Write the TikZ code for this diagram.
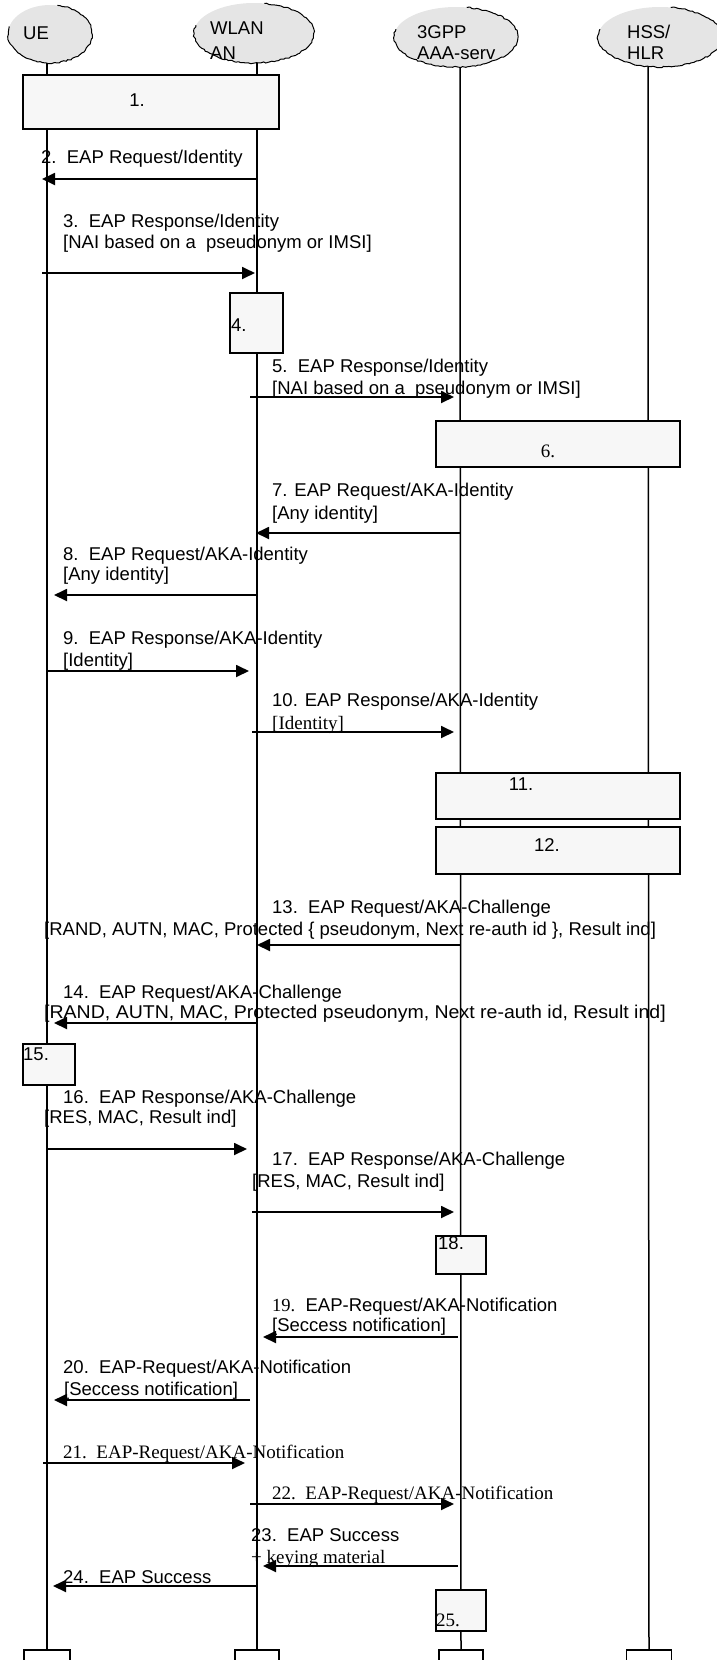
\documentclass[tikz,border=0pt]{standalone}
\usepackage{fontspec}
\setmainfont{Liberation Sans}
\newfontfamily\tms{Liberation Serif}
\usetikzlibrary{arrows.meta,decorations.pathmorphing,shapes.geometric}
\begin{document}
\begin{tikzpicture}[x=1pt,y=1pt,
  life/.style={line width=1.5pt},
  msg/.style={line width=1.8pt,-{Triangle[length=13pt,width=12pt]}},
  procbox/.style={draw,line width=1.6pt,fill=black!3,inner sep=0pt},
  endbox/.style={draw,line width=1.6pt,fill=white,inner sep=0pt},
  lbl/.style={anchor=base west,inner sep=0pt,font=\fontsize{18.5}{22}\selectfont},
  slbl/.style={anchor=base west,inner sep=0pt,font=\tms\fontsize{19}{22}\selectfont},
  clbl/.style={anchor=base,inner sep=0pt,font=\fontsize{18.5}{22}\selectfont},
  sclbl/.style={anchor=base,inner sep=0pt,font=\tms\fontsize{19}{22}\selectfont},
  cloudnode/.style={ellipse,fill=black!10,inner sep=0pt},
  cloudedge/.style={line width=1pt,decorate,decoration={random steps,segment length=2.5pt,amplitude=0.7pt}}
]
\pgfmathsetseed{7}
\useasboundingbox (0,0) rectangle (716,-1660);

% bottom boxes
\node[endbox,minimum width=46pt,minimum height=40pt] (uebot) at (47,-1670) {};
\node[endbox,minimum width=44pt,minimum height=40pt] (wlbot) at (257,-1670) {};
\node[endbox,minimum width=44pt,minimum height=40pt] (aabot) at (461,-1670) {};
\node[endbox,minimum width=45pt,minimum height=40pt] (hsbot) at (649,-1670) {};

% lifelines
\coordinate (uetop) at (47,-58);
\coordinate (wltop) at (257,-58);
\coordinate (aatop) at (460,-62);
\coordinate (hstop) at (648,-62);
\draw[life] (uetop) -- (uebot.north);
\draw[life] (wltop) -- (wlbot.north);
\draw[life] (aatop) -- (aabot.north);
\draw[life] (hstop) -- (hsbot.north);

% clouds
\node[cloudnode,minimum width=84pt,minimum height=58pt] (uecl) at (50,-34) {};
\draw[cloudedge] (uecl.center) ++(80:42 and 29) arc[start angle=80,end angle=-195,x radius=42,y radius=29];
\node[cloudnode,minimum width=120pt,minimum height=60pt] (wlcl) at (254,-33) {};
\draw[cloudedge] (wlcl.center) ++(80:60 and 30) arc[start angle=80,end angle=-195,x radius=60,y radius=30];
\node[cloudnode,minimum width=124pt,minimum height=60pt] (aacl) at (456,-37) {};
\draw[cloudedge] (aacl.center) ++(80:62 and 30) arc[start angle=80,end angle=-195,x radius=62,y radius=30];
\node[cloudnode,minimum width=124pt,minimum height=60pt] (hscl) at (660,-37) {};
\draw[cloudedge] (hscl.center) ++(80:62 and 30) arc[start angle=80,end angle=-195,x radius=62,y radius=30];
\node[lbl] (t-ue) at (23,-39) {UE};
\node[lbl] (t-wl1) at (210,-34) {WLAN};
\node[lbl] (t-wl2) at (210,-59) {AN};
\node[lbl] (t-aa1) at (417,-38) {3GPP};
\node[lbl] (t-aa2) at (417,-59) {AAA-serv};
\node[lbl] (t-hs1) at (627,-38) {HSS/};
\node[lbl] (t-hs2) at (627,-59) {HLR};

% process boxes
\node[procbox,minimum width=256pt,minimum height=54pt] (b1) at (151,-102) {};
\node[clbl] (b1t) at (137,-106) {1.};
\node[procbox,minimum width=53pt,minimum height=60pt] (b4) at (256.5,-323) {};
\node[lbl] (b4t) at (231,-331) {4.};
\node[procbox,minimum width=244pt,minimum height=46pt] (b6) at (558,-444) {};
\node[sclbl] (b6t) at (548,-457) {6.};
\node[procbox,minimum width=244pt,minimum height=46pt] (b11) at (558,-796) {};
\node[clbl] (b11t) at (521,-790) {11.};
\node[procbox,minimum width=244pt,minimum height=47pt] (b12) at (558,-850.5) {};
\node[clbl] (b12t) at (547,-851) {12.};
\node[procbox,minimum width=52pt,minimum height=41pt] (b15) at (49,-1064.5) {};
\node[lbl] (b15t) at (23,-1060) {15.};
\node[procbox,minimum width=50pt,minimum height=38pt] (b18) at (461,-1255) {};
\node[lbl] (b18t) at (438,-1249) {18.};
\node[procbox,minimum width=50pt,minimum height=41pt] (b25) at (461,-1610.5) {};
\node[slbl] (b25t) at (436,-1626) {25.};

% message 2
\node[lbl] (m2a) at (41,-163) {2.\ \ EAP Request/Identity};
\coordinate (m2s) at (257,-179); \coordinate (m2e) at (42,-179);
\draw[msg] (m2s) -- (m2e);
% message 3
\node[lbl] (m3a) at (63,-227) {3.\ \ EAP Response/Identity};
\node[lbl] (m3b) at (63,-248) {[NAI based on a\ \ pseudonym or IMSI]};
\coordinate (m3s) at (42,-273); \coordinate (m3e) at (255,-273);
\draw[msg] (m3s) -- (m3e);
% message 5
\node[lbl] (m5a) at (272,-372) {5.\ \ EAP Response/Identity};
\node[lbl] (m5b) at (272,-394) {[NAI based on a\ \ pseudonym or IMSI]};
\coordinate (m5s) at (250,-397); \coordinate (m5e) at (454,-397);
\draw[msg] (m5s) -- (m5e);
% message 7
\node[lbl] (m7a) at (272,-496) {7. EAP Request/AKA-Identity};
\node[lbl] (m7b) at (272,-519) {[Any identity]};
\coordinate (m7s) at (460,-533); \coordinate (m7e) at (256,-533);
\draw[msg] (m7s) -- (m7e);
% message 8
\node[lbl] (m8a) at (63,-560) {8.\ \ EAP Request/AKA-Identity};
\node[lbl] (m8b) at (63,-580) {[Any identity]};
\coordinate (m8s) at (257,-595); \coordinate (m8e) at (54,-595);
\draw[msg] (m8s) -- (m8e);
% message 9
\node[lbl] (m9a) at (63,-644) {9.\ \ EAP Response/AKA-Identity};
\node[lbl] (m9b) at (63,-666) {[Identity]};
\coordinate (m9s) at (47,-671); \coordinate (m9e) at (249,-671);
\draw[msg] (m9s) -- (m9e);
% message 10
\node[lbl] (m10a) at (272,-706) {10. EAP Response/AKA-Identity};
\node[slbl] (m10b) at (272,-729) {[Identity]};
\coordinate (m10s) at (252,-732); \coordinate (m10e) at (454,-732);
\draw[msg] (m10s) -- (m10e);
% message 13
\node[lbl] (m13a) at (272,-913) {13.\ \ EAP Request/AKA-Challenge};
\node[lbl] (m13b) at (44,-935) {[RAND, AUTN, MAC, Protected \{ pseudonym, Next re-auth id \}, Result ind]};
\coordinate (m13s) at (460,-945); \coordinate (m13e) at (257,-945);
\draw[msg] (m13s) -- (m13e);
% message 14
\node[lbl] (m14a) at (63,-998) {14.\ \ EAP Request/AKA-Challenge};
\node[lbl] (m14b) at (44,-1018) {\scalebox{1.055}[1]{[RAND, AUTN, MAC, Protected pseudonym, Next re-auth id, Result ind]}};
\coordinate (m14s) at (257,-1023); \coordinate (m14e) at (54,-1023);
\draw[msg] (m14s) -- (m14e);
% message 16
\node[lbl] (m16a) at (63,-1103) {16.\ \ EAP Response/AKA-Challenge};
\node[lbl] (m16b) at (44,-1123) {[RES, MAC, Result ind]};
\coordinate (m16s) at (46,-1149); \coordinate (m16e) at (247,-1149);
\draw[msg] (m16s) -- (m16e);
% message 17
\node[lbl] (m17a) at (272,-1165) {17.\ \ EAP Response/AKA-Challenge};
\node[lbl] (m17b) at (252,-1187) {[RES, MAC, Result ind]};
\coordinate (m17s) at (252,-1212); \coordinate (m17e) at (454,-1212);
\draw[msg] (m17s) -- (m17e);
% message 19
\node[lbl] (m19a) at (272,-1311) {{\tms 19.}\ \ EAP-Request/AKA-Notification};
\node[lbl] (m19b) at (272,-1331) {[Seccess notification]};
\coordinate (m19s) at (458,-1337); \coordinate (m19e) at (263,-1337);
\draw[msg] (m19s) -- (m19e);
% message 20
\node[lbl] (m20a) at (63,-1373) {20.\ \ EAP-Request/AKA-Notification};
\node[lbl] (m20b) at (64,-1395) {[Seccess notification]};
\coordinate (m20s) at (250,-1400); \coordinate (m20e) at (54,-1400);
\draw[msg] (m20s) -- (m20e);
% message 21
\node[slbl] (m21a) at (63,-1458) {21.\ \ EAP-Request/AKA-Notification};
\coordinate (m21s) at (43,-1463); \coordinate (m21e) at (245,-1463);
\draw[msg] (m21s) -- (m21e);
% message 22
\node[slbl] (m22a) at (272,-1499) {22.\ \ EAP-Request/AKA-Notification};
\coordinate (m22s) at (250,-1504); \coordinate (m22e) at (454,-1504);
\draw[msg] (m22s) -- (m22e);
% message 23
\node[lbl] (m23a) at (251,-1541) {23.\ \ EAP Success};
\node[slbl] (m23b) at (251,-1563) {+ keying material};
\coordinate (m23s) at (458,-1566); \coordinate (m23e) at (263,-1566);
\draw[msg] (m23s) -- (m23e);
% message 24
\node[lbl] (m24a) at (63,-1583) {24.\ \ EAP Success};
\coordinate (m24s) at (257,-1586); \coordinate (m24e) at (53,-1586);
\draw[msg] (m24s) -- (m24e);
\end{tikzpicture}
\end{document}
